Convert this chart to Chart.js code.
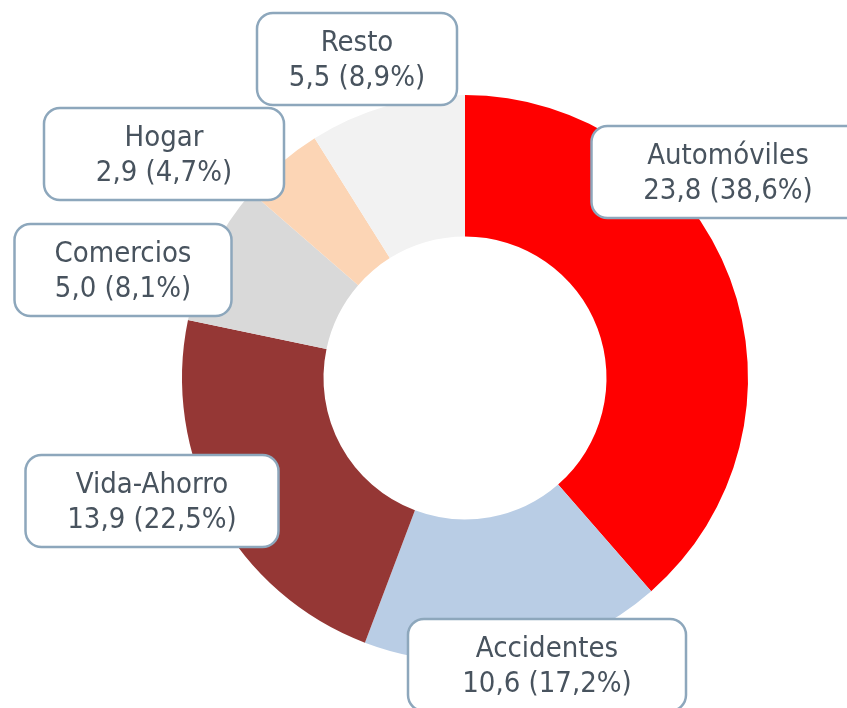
<!DOCTYPE html>
<html>
<head>
<meta charset="utf-8">
<script src="https://cdn.jsdelivr.net/npm/chart.js"></script>
<style>
  html, body { margin: 0; padding: 0; background: #ffffff; }
  #wrap { width: 847px; height: 708px; }
</style>
</head>
<body>
<div id="wrap"><canvas id="ramosChart" width="847" height="708"></canvas></div>
<script>
// datos (millones), sentido horario desde arriba
var ramos = ['Automóviles', 'Accidentes', 'Vida-Ahorro', 'Comercios', 'Hogar', 'Resto'];
var primas = [23.8, 10.6, 13.9, 5.0, 2.9, 5.5];
var porcentajes = [38.6, 17.2, 22.5, 8.1, 4.7, 8.9];

var colores = ['#ff0000', '#b9cde5', '#953735', '#d9d9d9', '#fcd5b5', '#f2f2f2'];

// cajas de etiqueta: desplazamiento desde el centro del anillo y ancho
var cajas = [
    { dx: 263, dy: -206, w: 273 },
    { dx: 82, dy: 287, w: 278 },
    { dx: -313, dy: 123, w: 253 },
    { dx: -342, dy: -108, w: 217 },
    { dx: -301, dy: -224, w: 240 },
    { dx: -108, dy: -319, w: 200 }
];

function fmt(v) {
    return v.toFixed(1).replace('.', ',');
}

var etiquetas = {
    id: 'etiquetas',
    afterDatasetsDraw: function (chart) {
        var ctx = chart.ctx;
        var arc = chart.getDatasetMeta(0).data[0];
        var cx = arc.x, cy = arc.y;
        ctx.save();
        ctx.font = '29px "DejaVu Sans Condensed", "DejaVu Sans", sans-serif';
        ctx.textAlign = 'center';
        ctx.textBaseline = 'middle';
        for (var i = 0; i < ramos.length; i++) {
            var b = cajas[i];
            var h = 92;
            var x = cx + b.dx - b.w / 2, y = cy + b.dy - h / 2;
            ctx.beginPath();
            ctx.roundRect(x, y, b.w, h, 16);
            ctx.fillStyle = '#ffffff';
            ctx.fill();
            ctx.lineWidth = 2.5;
            ctx.strokeStyle = '#8da7bc';
            ctx.stroke();
            ctx.fillStyle = '#48535e';
            ctx.fillText(ramos[i], cx + b.dx, cy + b.dy - 16);
            ctx.fillText(fmt(primas[i]) + ' (' + fmt(porcentajes[i]) + '%)', cx + b.dx, cy + b.dy + 19);
        }
        ctx.restore();
    }
};

var ctx = document.getElementById('ramosChart').getContext('2d');
new Chart(ctx, {
    type: 'doughnut',
    data: {
        labels: ramos,
        datasets: [{
            data: primas,
            backgroundColor: colores,
            borderWidth: 0
        }]
    },
    options: {
        responsive: false,
        animation: false,
        cutout: '50%',
        layout: {
            padding: { left: 182, right: 99, top: 95, bottom: 47 }
        },
        plugins: {
            legend: { display: false },
            tooltip: { enabled: false }
        }
    },
    plugins: [etiquetas]
});
</script>
</body>
</html>
